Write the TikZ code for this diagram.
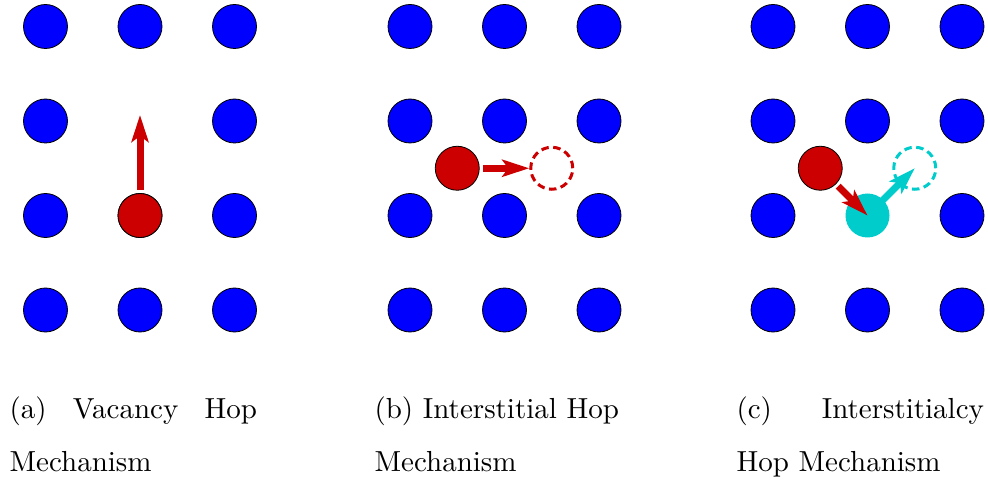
\documentclass[tikz,border=0pt]{standalone}
\usetikzlibrary{arrows.meta}
\definecolor{atomblue}{RGB}{0,0,255}
\definecolor{atomred}{RGB}{204,0,0}
\definecolor{atomcyan}{RGB}{0,204,204}
\begin{document}
\begin{tikzpicture}[x=1pt,y=-1pt,
  atom/.style={circle,draw=black,line width=0.8pt,fill=atomblue,minimum size=44pt,inner sep=0pt},
  redatom/.style={atom,fill=atomred},
  cyanatom/.style={circle,fill=atomcyan,minimum size=44pt,inner sep=0pt},
  ghost/.style={circle,draw=#1,line width=3pt,dash pattern=on 7.5pt off 4.5pt,minimum size=42pt,inner sep=0pt},
  jump/.style={draw=#1,line width=7pt,-{Stealth[length=27pt,width=17pt,inset=6pt]}},
  captext/.style={anchor=base west,inner sep=0pt,scale=2.9,text width=85.3pt,align=left,font=\fontsize{10}{18.6}\selectfont}]
\useasboundingbox (0,0) rectangle (988,481);
% panel (a): vacancy hop
\foreach \i in {0,1,2}{\foreach \j in {0,1,2,3}{%
  \pgfmathtruncatemacro\skipA{(\i==1)&&(\j==1)}%
  \ifnum\skipA=0 \node[atom] (a\i\j) at ({45.5+94.5*\i},{26.5+94.5*\j}) {};\fi
}}
% panel (b): interstitial hop
\foreach \i in {0,1,2}{\foreach \j in {0,1,2,3}{%
  \node[atom] (b\i\j) at ({410+94.5*\i},{26.5+94.5*\j}) {};
}}
% panel (c): interstitialcy hop
\foreach \i in {0,1,2}{\foreach \j in {0,1,2,3}{%
  \pgfmathtruncatemacro\skipC{(\i==1)&&(\j==2)}%
  \ifnum\skipC=0 \node[atom] (c\i\j) at ({773+94.5*\i},{26.5+94.5*\j}) {};\fi
}}
% (a)
\node[redatom] (ra) at (140,215.5) {};
\coordinate (vac) at (140,115);
\draw[jump=atomred,shorten <=3.5pt] (ra) -- (vac);
% (b)
\node[redatom] (rb) at (457.25,168.25) {};
\node[ghost=atomred] (gb) at (551.75,168.25) {};
\draw[jump=atomred,shorten <=3.5pt] (rb) -- (gb);
% (c)
\node[redatom] (rc) at (820.25,168.25) {};
\node[cyanatom] (cc) at (867.5,215.5) {};
\node[ghost=atomcyan] (gc) at (914.75,168.25) {};
\draw[jump=atomcyan] (cc.center) -- (gc.center);
\draw[jump=atomred,shorten <=3pt] (rc) -- (cc.center);
% captions
\node[captext] (capa) at (9,418) {(a)\hfill Vacancy\hfill Hop\\Mechanism};
\node[captext] (capb) at (374,418) {(b) Interstitial Hop\\Mechanism};
\node[captext] (capc) at (736,418) {(c)\hfill Interstitialcy\\Hop Mechanism};
\end{tikzpicture}
\end{document}
